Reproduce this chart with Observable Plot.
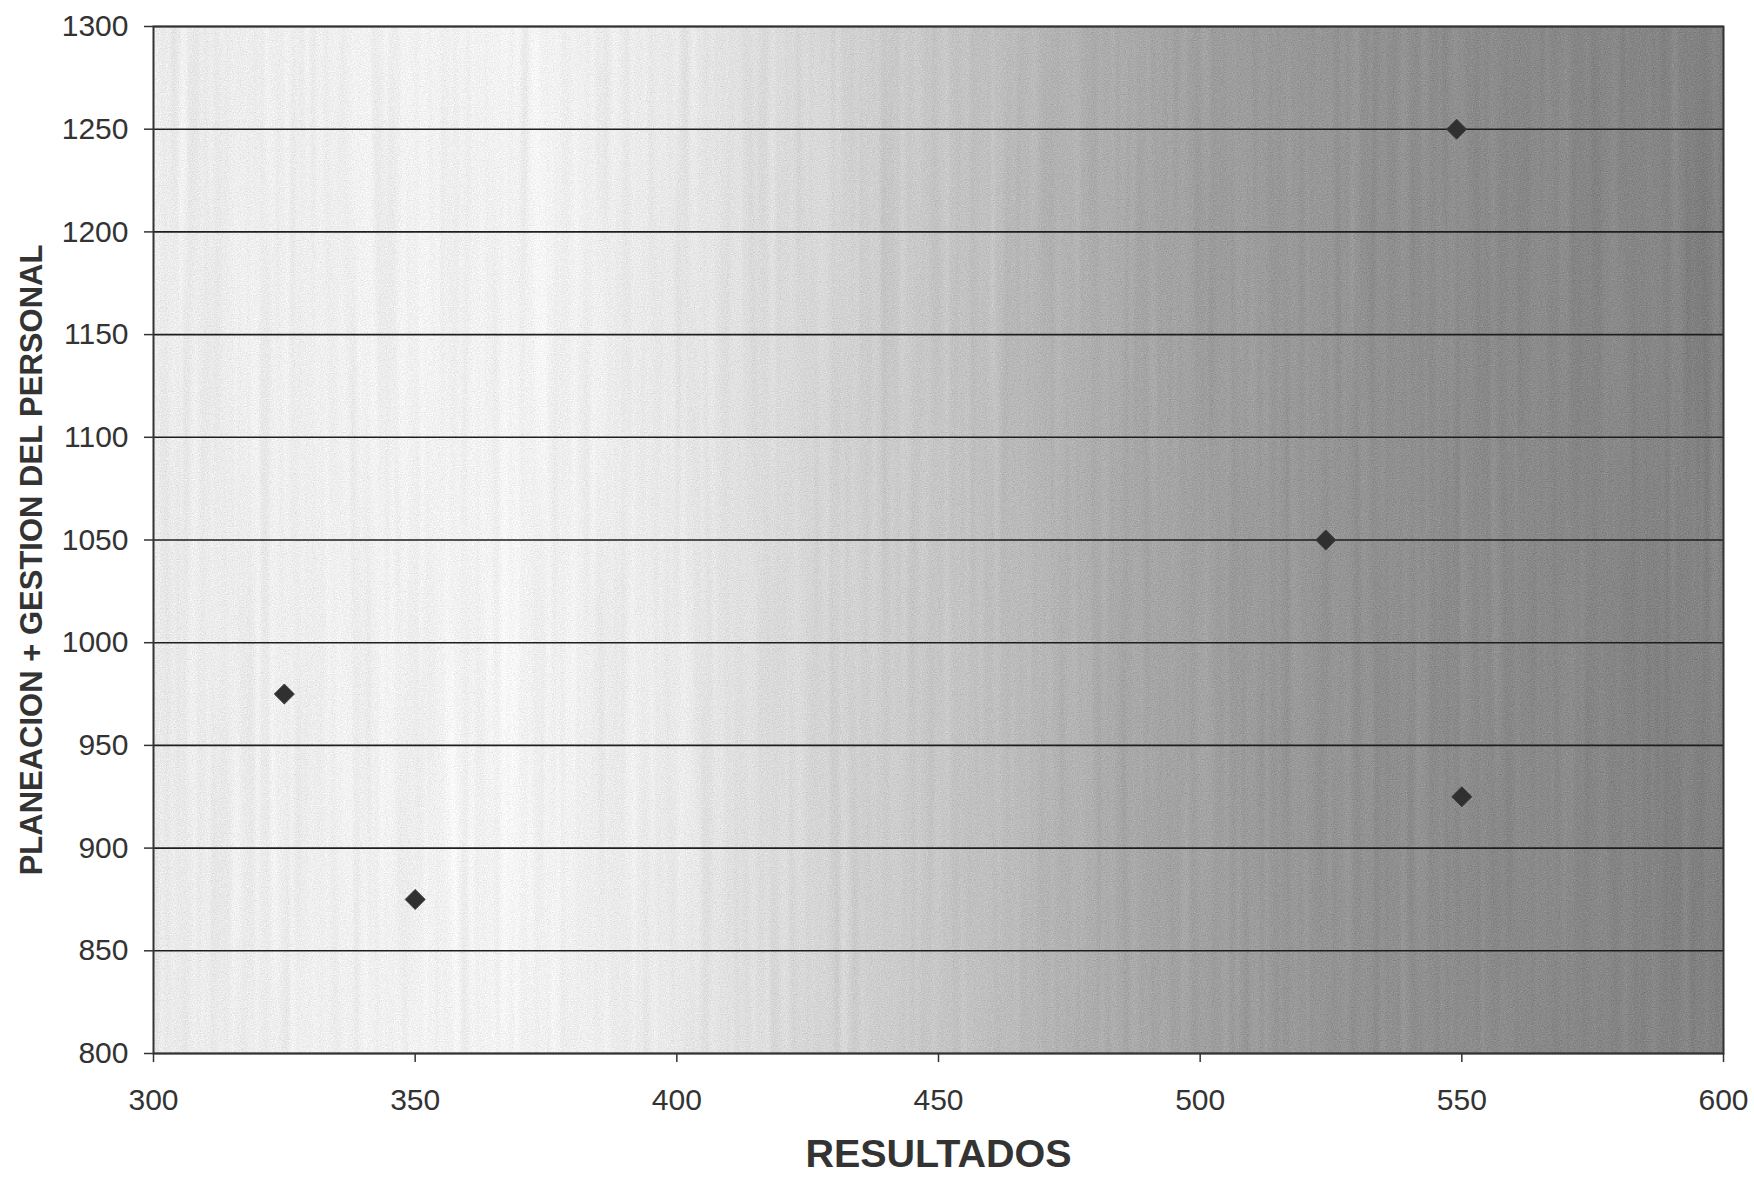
<!DOCTYPE html>
<html>
<head>
<meta charset="utf-8">
<script src="https://cdn.jsdelivr.net/npm/d3@7"></script>
<script src="https://cdn.jsdelivr.net/npm/@observablehq/plot@0.6"></script>
<style>
  html, body { margin: 0; padding: 0; background: #ffffff; }
</style>
</head>
<body>
<div id="chart"></div>
<script>
// Data
const resultados = [325, 350, 524, 549, 550];
const planeacion = [975, 875, 1050, 1250, 925];
const xTicks = [300, 350, 400, 450, 500, 550, 600];
const yTicks = [800, 850, 900, 950, 1000, 1050, 1100, 1150, 1200, 1250, 1300];
const xLabel = ["RESULTADOS"];
const yLabel = ["PLANEACION + GESTION DEL PERSONAL"];

const points = resultados.map((x, i) => ({x, y: planeacion[i]}));

const chart = Plot.plot({
  width: 1754,
  height: 1177,
  marginLeft: 153,
  marginRight: 31,
  marginTop: 26,
  marginBottom: 124,
  style: {fontFamily: "'Liberation Sans', Arial, sans-serif", fontSize: "30px", color: "#333", background: "white"},
  x: {domain: [300, 600]},
  y: {domain: [800, 1300]},
  marks: [
    Plot.frame({fill: "url(#bg)", stroke: null}),
    Plot.ruleY(yTicks, {stroke: "#1e1e1e", strokeWidth: 1.6}),
    Plot.frame({stroke: "#333", strokeWidth: 2}),
    Plot.axisX({ticks: xTicks, tickSize: 9, tickPadding: 26, tickFormat: "d", label: null, fontSize: 30, stroke: "#333", strokeWidth: 1.5}),
    Plot.axisY({ticks: yTicks, tickSize: 9, tickPadding: 16, tickFormat: "d", label: null, fontSize: 30, stroke: "#333", strokeWidth: 1.5}),
    Plot.dot(points, {x: "x", y: "y", symbol: "diamond2", r: 9, fill: "#303030", stroke: "#3a3a3a", strokeWidth: 1}),
    Plot.text(xLabel, {text: d => d, frameAnchor: "bottom", dy: 101, textAnchor: "middle", lineAnchor: "middle", fontWeight: "bold", fontSize: 39.5, fill: "#333"}),
    Plot.text(yLabel, {text: d => d, frameAnchor: "left", dx: -121, dy: 20, rotate: -90, textAnchor: "middle", lineAnchor: "middle", fontWeight: "bold", fontSize: 31, fill: "#333"})
  ]
});

const ns = "http://www.w3.org/2000/svg";
const defs = document.createElementNS(ns, "defs");
defs.innerHTML = `
  <linearGradient id="bg" x1="0" y1="0" x2="1" y2="0">
    <stop offset="0%" stop-color="#eaeaea"/>
    <stop offset="10%" stop-color="#efefef"/>
    <stop offset="23%" stop-color="#f3f3f3"/>
    <stop offset="33%" stop-color="#e9e9e9"/>
    <stop offset="43%" stop-color="#d4d4d4"/>
    <stop offset="52%" stop-color="#c2c2c2"/>
    <stop offset="60%" stop-color="#adadad"/>
    <stop offset="68%" stop-color="#9e9e9e"/>
    <stop offset="77%" stop-color="#929292"/>
    <stop offset="87%" stop-color="#8a8a8a"/>
    <stop offset="100%" stop-color="#828282"/>
  </linearGradient>
  <filter id="noise" x="0" y="0" width="1" height="1" color-interpolation-filters="sRGB">
    <feTurbulence type="fractalNoise" baseFrequency="0.85" numOctaves="2" seed="2" result="t1"/>
    <feColorMatrix in="t1" type="matrix" values="0.33 0.33 0.33 0 0  0.33 0.33 0.33 0 0  0.33 0.33 0.33 0 0  0 0 0 0 1" result="g1"/>
    <feTurbulence type="fractalNoise" baseFrequency="0.1 0.002" numOctaves="2" seed="5" result="t2"/>
    <feColorMatrix in="t2" type="matrix" values="0.33 0.33 0.33 0 0  0.33 0.33 0.33 0 0  0.33 0.33 0.33 0 0  0 0 0 0 1" result="g2"/>
    <feComposite in="SourceGraphic" in2="g1" operator="arithmetic" k1="0" k2="1" k3="0.32" k4="-0.16" result="c1"/>
    <feComposite in="c1" in2="g2" operator="arithmetic" k1="0" k2="1" k3="0.14" k4="-0.07"/>
  </filter>`;
chart.insertBefore(defs, chart.firstChild);
const bgEl = chart.querySelector('[fill="url(#bg)"]');
if (bgEl) bgEl.setAttribute("filter", "url(#noise)");

document.getElementById("chart").appendChild(chart);
</script>
</body>
</html>
